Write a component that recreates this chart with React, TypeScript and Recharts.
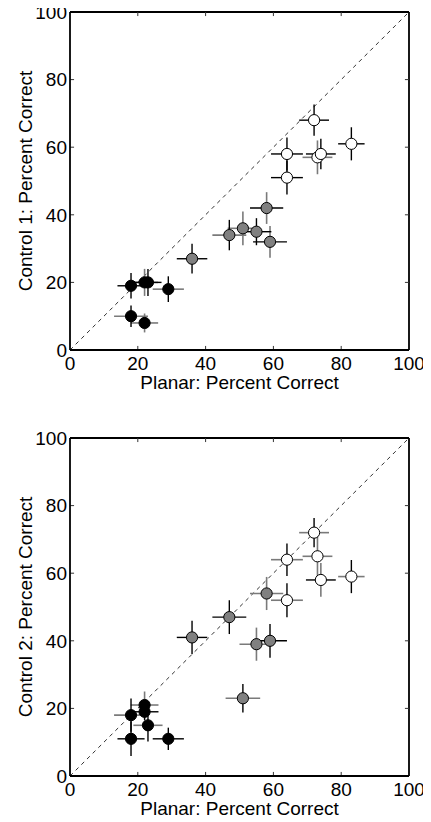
import React from 'react';
import { ScatterChart, Scatter, XAxis, YAxis, ErrorBar, ReferenceLine, Label } from 'recharts';

type Tone = 'k' | 'g';

const TICKS = [0, 20, 40, 60, 80, 100];
const INNER_TICKS = [20, 40, 60, 80];
const X_LABEL = 'Planar: Percent Correct';
const Y_LABEL_1 = 'Control 1: Percent Correct';
const Y_LABEL_2 = 'Control 2: Percent Correct';

// Panel 1 (Control 1)
const c1WhiteX = [72, 64, 73, 74, 83, 64];
const c1WhiteY = [68, 58, 57, 58, 61, 51];
const c1WhiteXErr = [4.4, 4.7, 4.4, 4.4, 3.9, 4.7];
const c1WhiteYErr = [4.6, 4.9, 5, 4.5, 4.9, 5];
const c1WhiteXTone: Tone[] = ['k', 'k', 'g', 'k', 'k', 'k'];
const c1WhiteYTone: Tone[] = ['k', 'k', 'g', 'k', 'k', 'k'];

const c1GrayX = [58, 47, 51, 55, 59, 36];
const c1GrayY = [42, 34, 36, 35, 32, 27];
const c1GrayXErr = [4.9, 5, 4.5, 4.4, 5, 4.5];
const c1GrayYErr = [4.7, 4.5, 5, 4, 4.7, 4.4];
const c1GrayXTone: Tone[] = ['k', 'g', 'g', 'k', 'k', 'k'];
const c1GrayYTone: Tone[] = ['g', 'k', 'g', 'k', 'g', 'k'];

const c1BlackX = [18, 22, 23, 29, 18, 22];
const c1BlackY = [19, 20, 20, 18, 10, 8];
const c1BlackXErr = [4, 4, 4, 4.6, 5, 4];
const c1BlackYErr = [3.8, 4, 4, 3.8, 3.2, 2.8];
const c1BlackXTone: Tone[] = ['k', 'g', 'k', 'g', 'g', 'g'];
const c1BlackYTone: Tone[] = ['k', 'g', 'k', 'k', 'k', 'g'];

// Panel 2 (Control 2)
const c2WhiteX = [72, 64, 73, 74, 83, 64];
const c2WhiteY = [72, 64, 65, 58, 59, 52];
const c2WhiteXErr = [4.4, 4.7, 4.4, 4.4, 3.9, 4.7];
const c2WhiteYErr = [4.3, 4.8, 6, 5, 4.9, 5];
const c2WhiteXTone: Tone[] = ['g', 'g', 'g', 'k', 'g', 'g'];
const c2WhiteYTone: Tone[] = ['k', 'k', 'g', 'g', 'k', 'k'];

const c2GrayX = [58, 47, 36, 55, 59, 51];
const c2GrayY = [54, 47, 41, 39, 40, 23];
const c2GrayXErr = [4.9, 5, 4.5, 5, 5, 5.1];
const c2GrayYErr = [4.9, 5, 4.9, 4.9, 5, 4.2];
const c2GrayXTone: Tone[] = ['g', 'k', 'k', 'g', 'k', 'g'];
const c2GrayYTone: Tone[] = ['g', 'k', 'k', 'g', 'k', 'k'];

const c2BlackX = [22, 22, 18, 23, 18, 29];
const c2BlackY = [21, 19, 18, 15, 11, 11];
const c2BlackXErr = [4.1, 4.1, 5, 4.3, 4, 4.6];
const c2BlackYErr = [4, 2.5, 4.9, 4.8, 5.1, 3.3];
const c2BlackXTone: Tone[] = ['g', 'k', 'g', 'g', 'k', 'k'];
const c2BlackYTone: Tone[] = ['g', 'k', 'k', 'k', 'k', 'k'];

function buildRows(x: number[], y: number[], xe: number[], ye: number[], xt: Tone[], yt: Tone[]) {
  return x.map((xv, i) => ({
    x: xv,
    y: y[i],
    xErrK: xt[i] === 'k' ? xe[i] : 0,
    xErrG: xt[i] === 'g' ? xe[i] : 0,
    yErrK: yt[i] === 'k' ? ye[i] : 0,
    yErrG: yt[i] === 'g' ? ye[i] : 0,
  }));
}

const FONT = '"Liberation Sans", Arial, Helvetica, sans-serif';
const BLACK = '#000000';
const GRAY = '#7a7a7a';
const FILL_GRAY = '#808080';
const TICK_LEN = 1.2; // in data units (about 4px)

const makeShape = (fill: string) => (props: any) => (
  <circle cx={props.cx} cy={props.cy} r={5.6} fill={fill} stroke="#000" strokeWidth={1} />
);

function errBars() {
  return [
    <ErrorBar key="xg" dataKey="xErrG" direction="x" width={0} stroke={GRAY} strokeWidth={1.6} />,
    <ErrorBar key="yg" dataKey="yErrG" direction="y" width={0} stroke={GRAY} strokeWidth={1.6} />,
    <ErrorBar key="xk" dataKey="xErrK" direction="x" width={0} stroke={BLACK} strokeWidth={1.4} />,
    <ErrorBar key="yk" dataKey="yErrK" direction="y" width={0} stroke={BLACK} strokeWidth={1.4} />,
  ];
}

function frameTicks() {
  const out: any[] = [];
  INNER_TICKS.forEach((t) => {
    out.push(
      <ReferenceLine key={`b${t}`} segment={[{ x: t, y: 0 }, { x: t, y: TICK_LEN }]} stroke="#333" strokeWidth={1} ifOverflow="visible" />,
      <ReferenceLine key={`t${t}`} segment={[{ x: t, y: 100 }, { x: t, y: 100 - TICK_LEN }]} stroke="#333" strokeWidth={1} ifOverflow="visible" />,
      <ReferenceLine key={`l${t}`} segment={[{ x: 0, y: t }, { x: TICK_LEN, y: t }]} stroke="#333" strokeWidth={1} ifOverflow="visible" />,
      <ReferenceLine key={`r${t}`} segment={[{ x: 100, y: t }, { x: 100 - TICK_LEN, y: t }]} stroke="#333" strokeWidth={1} ifOverflow="visible" />
    );
  });
  return out;
}

type PanelProps = {
  height: number;
  bottom: number;
  yLabel: string;
  white: any[];
  gray: any[];
  black: any[];
};

function Panel({ height, bottom, yLabel, white, gray, black }: PanelProps) {
  const tickStyle = { fill: '#000', fontSize: 19, fontFamily: FONT };
  const axisLine = { stroke: '#000', strokeWidth: 1.8 };
  return (
    <ScatterChart width={415} height={height} margin={{ top: 4, right: 14, bottom, left: 0 }}>
      <XAxis
        type="number"
        dataKey="x"
        domain={[0, 100]}
        ticks={TICKS}
        interval={0}
        allowDataOverflow
        height={38}
        axisLine={axisLine}
        tickLine={false}
        tickSize={0}
        tickMargin={7}
        tick={tickStyle}
      >
        <Label value={X_LABEL} position="insideBottom" offset={-1} style={{ fill: '#000', fontSize: 19, fontFamily: FONT }} />
      </XAxis>
      <YAxis
        type="number"
        dataKey="y"
        domain={[0, 100]}
        ticks={TICKS}
        interval={0}
        allowDataOverflow
        width={62}
        axisLine={axisLine}
        tickLine={false}
        tickSize={0}
        tickMargin={3}
        tick={tickStyle}
      >
        <Label
          value={yLabel}
          angle={-90}
          position="insideLeft"
          offset={17}
          style={{ fill: '#000', fontSize: 19, fontFamily: FONT, textAnchor: 'middle' }}
        />
      </YAxis>
      <ReferenceLine y={100} stroke="#000" strokeWidth={1.8} ifOverflow="visible" />
      <ReferenceLine x={100} stroke="#000" strokeWidth={1.8} ifOverflow="visible" />
      {frameTicks()}
      <ReferenceLine
        segment={[{ x: 0, y: 0 }, { x: 100, y: 100 }]}
        stroke="#333"
        strokeWidth={1}
        strokeDasharray="4 4"
        ifOverflow="visible"
      />
      <Scatter data={black} isAnimationActive={false} shape={makeShape('#000')}>
        {errBars()}
      </Scatter>
      <Scatter data={gray} isAnimationActive={false} shape={makeShape(FILL_GRAY)}>
        {errBars()}
      </Scatter>
      <Scatter data={white} isAnimationActive={false} shape={makeShape('#fff')}>
        {errBars()}
      </Scatter>
    </ScatterChart>
  );
}

export default function App() {
  const w1 = buildRows(c1WhiteX, c1WhiteY, c1WhiteXErr, c1WhiteYErr, c1WhiteXTone, c1WhiteYTone);
  const g1 = buildRows(c1GrayX, c1GrayY, c1GrayXErr, c1GrayYErr, c1GrayXTone, c1GrayYTone);
  const b1 = buildRows(c1BlackX, c1BlackY, c1BlackXErr, c1BlackYErr, c1BlackXTone, c1BlackYTone);
  const w2 = buildRows(c2WhiteX, c2WhiteY, c2WhiteXErr, c2WhiteYErr, c2WhiteXTone, c2WhiteYTone);
  const g2 = buildRows(c2GrayX, c2GrayY, c2GrayXErr, c2GrayYErr, c2GrayXTone, c2GrayYTone);
  const b2 = buildRows(c2BlackX, c2BlackY, c2BlackXErr, c2BlackYErr, c2BlackXTone, c2BlackYTone);
  return (
    <div style={{ width: 415, fontFamily: FONT, background: '#fff' }}>
      <style>{`html,body{overflow:hidden}.recharts-surface{overflow:visible}`}</style>
      <Panel height={426} bottom={46} yLabel={Y_LABEL_1} white={w1} gray={g1} black={b1} />
      <Panel height={388} bottom={8} yLabel={Y_LABEL_2} white={w2} gray={g2} black={b2} />
    </div>
  );
}
